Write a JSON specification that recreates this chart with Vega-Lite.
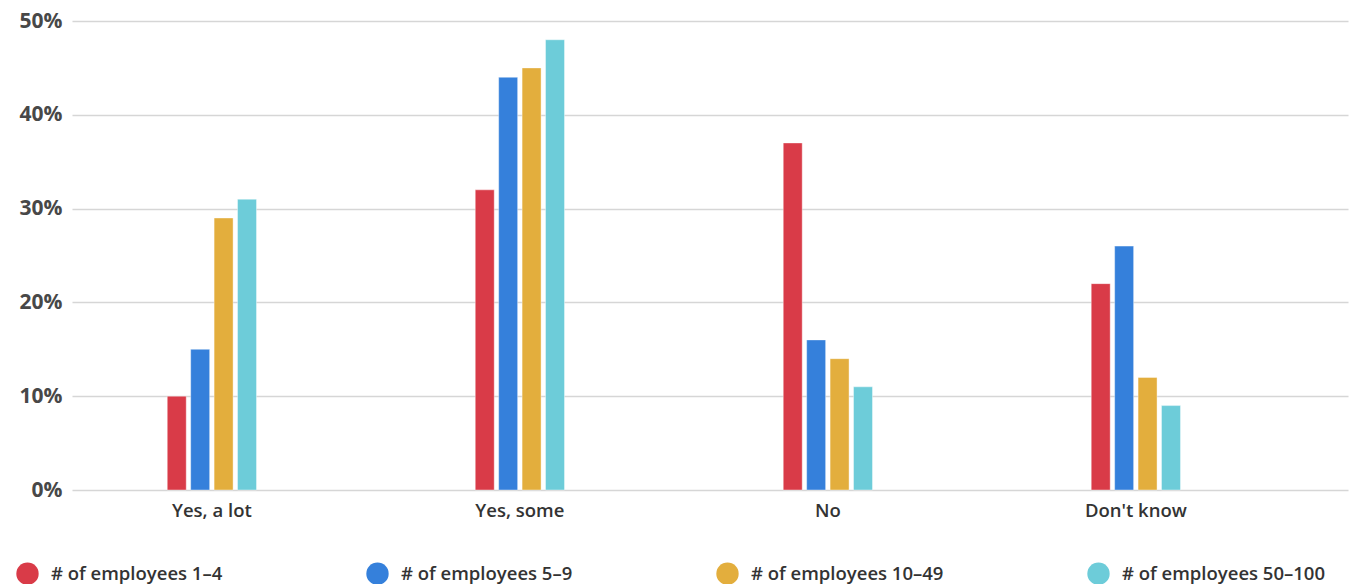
{
  "$schema": "https://vega.github.io/schema/vega-lite/v6.json",
  "width": 1276,
  "height": 469,
  "autosize": "none",
  "padding": {"left": 72, "top": 21, "right": 13, "bottom": 94},
  "background": "#ffffff",
  "config": {
    "view": {"stroke": null},
    "font": "Open Sans"
  },
  "data": {
    "values": [
      {"answer": "Yes, a lot", "group": "# of employees 1–4", "pct": 10},
      {"answer": "Yes, a lot", "group": "# of employees 5–9", "pct": 15},
      {"answer": "Yes, a lot", "group": "# of employees 10–49", "pct": 29},
      {"answer": "Yes, a lot", "group": "# of employees 50–100", "pct": 31},
      {"answer": "Yes, some", "group": "# of employees 1–4", "pct": 32},
      {"answer": "Yes, some", "group": "# of employees 5–9", "pct": 44},
      {"answer": "Yes, some", "group": "# of employees 10–49", "pct": 45},
      {"answer": "Yes, some", "group": "# of employees 50–100", "pct": 48},
      {"answer": "No", "group": "# of employees 1–4", "pct": 37},
      {"answer": "No", "group": "# of employees 5–9", "pct": 16},
      {"answer": "No", "group": "# of employees 10–49", "pct": 14},
      {"answer": "No", "group": "# of employees 50–100", "pct": 11},
      {"answer": "Don't know", "group": "# of employees 1–4", "pct": 22},
      {"answer": "Don't know", "group": "# of employees 5–9", "pct": 26},
      {"answer": "Don't know", "group": "# of employees 10–49", "pct": 12},
      {"answer": "Don't know", "group": "# of employees 50–100", "pct": 9}
    ]
  },
  "mark": {"type": "bar", "stroke": "#ffffff", "strokeWidth": 0.8, "strokeOpacity": 0.5},
  "encoding": {
    "x": {
      "field": "answer",
      "type": "nominal",
      "sort": ["Yes, a lot", "Yes, some", "No", "Don't know"],
      "scale": {"paddingInner": 0.695, "paddingOuter": 0.419, "align": 0.36},
      "axis": {
        "title": null,
        "labelAngle": 0,
        "domain": false,
        "ticks": false,
        "labelPadding": 11,
        "labelFontSize": 18.5,
        "labelFontWeight": 600,
        "labelColor": "#333333"
      }
    },
    "xOffset": {
      "field": "group",
      "type": "nominal",
      "sort": ["# of employees 1–4", "# of employees 5–9", "# of employees 10–49", "# of employees 50–100"],
      "scale": {"paddingInner": 0.19, "paddingOuter": 0.1}
    },
    "y": {
      "field": "pct",
      "type": "quantitative",
      "scale": {"domain": [0, 50], "nice": false},
      "axis": {
        "title": null,
        "values": [0, 10, 20, 30, 40, 50],
        "labelExpr": "datum.value + '%'",
        "domain": false,
        "ticks": false,
        "grid": true,
        "gridColor": "#d6d6d6",
        "gridWidth": 1.5,
        "labelPadding": 10,
        "labelFontSize": 21,
        "labelFontWeight": "bold",
        "labelColor": "#484848"
      }
    },
    "color": {
      "field": "group",
      "type": "nominal",
      "sort": ["# of employees 1–4", "# of employees 5–9", "# of employees 10–49", "# of employees 50–100"],
      "scale": {
        "domain": ["# of employees 1–4", "# of employees 5–9", "# of employees 10–49", "# of employees 50–100"],
        "range": ["#D93B48", "#3580DB", "#E3AE3D", "#6DCCD9"]
      },
      "legend": {
        "title": null,
        "orient": "none",
        "legendX": -56,
        "legendY": 541,
        "direction": "horizontal",
        "columns": 4,
        "columnPadding": 143,
        "symbolType": "circle",
        "symbolSize": 500,
        "symbolStrokeWidth": 0,
        "labelOffset": 12,
        "labelFontSize": 18.5,
        "labelFontWeight": 600,
        "labelColor": "#333333",
        "labelLimit": 400
      }
    }
  }
}
